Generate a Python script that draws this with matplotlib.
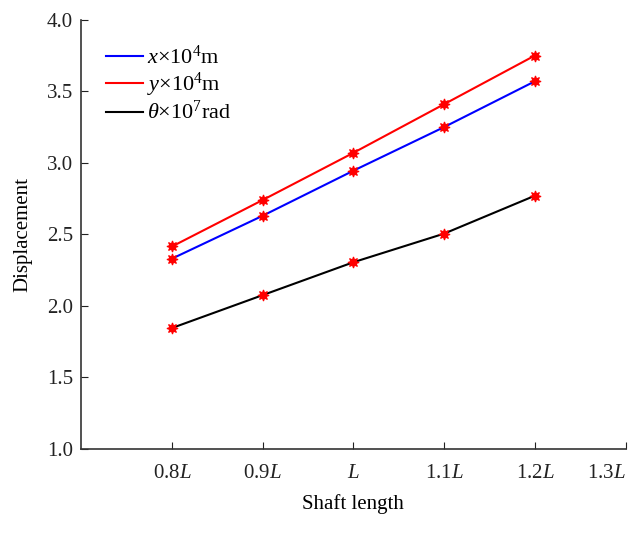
import matplotlib
matplotlib.use("Agg")
import matplotlib.pyplot as plt

plt.rcParams["font.family"] = ["Liberation Serif", "DejaVu Serif"]
plt.rcParams["mathtext.fontset"] = "custom"
plt.rcParams["mathtext.rm"] = "Liberation Serif"
plt.rcParams["mathtext.it"] = "Liberation Serif:italic"

# ===== Data =====
length = [0.8, 0.9, 1.0, 1.1, 1.2]
x_disp = [2.33, 2.63, 2.945, 3.25, 3.57]
y_disp = [2.415, 2.74, 3.07, 3.41, 3.75]
theta_disp = [1.845, 2.075, 2.305, 2.505, 2.77]

xticks = [0.8, 0.9, 1.0, 1.1, 1.2, 1.3]
xticklabels = ["0.8$L$", "0.9$L$", "$L$", "1.1$L$", "1.2$L$", "1.3$L$"]
yticks = [1.0, 1.5, 2.0, 2.5, 3.0, 3.5, 4.0]

# ===== Plot =====
fig = plt.figure(figsize=(6.3, 5.35), dpi=100)
ax = fig.add_axes([0.129, 0.161, 0.864, 0.802])

mk = dict(marker=(8, 1, 0), markersize=8, markerfacecolor="red",
          markeredgecolor="red", markeredgewidth=0.8)
ax.plot(length, x_disp, color="blue", lw=1.5, label=r"$x$×10$^4$m", **mk)
ax.plot(length, y_disp, color="red", lw=1.5, label=r"$y$×10$^4$m", **mk)
ax.plot(length, theta_disp, color="black", lw=1.5, label=r"$\theta$×10$^7$rad", **mk)

ax.set_xlim(0.7, 1.3)
ax.set_ylim(1.0, 4.0)
ax.set_xticks(xticks)
ax.set_xticklabels(xticklabels)
ax.set_yticks(yticks)
ax.set_yticklabels([f"{v:.1f}" for v in yticks])
ax.tick_params(direction="in", length=5, labelsize=15, colors="#222222", pad=6)
ax.tick_params(axis="x", pad=11)
# last label pushed inside the figure, as in the original
ax.get_xticklabels()[-1].set_horizontalalignment("right")
ax.get_xticklabels()[-1].set_x(1.3)

for s in ["top", "right"]:
    ax.spines[s].set_visible(False)
for s in ["left", "bottom"]:
    ax.spines[s].set_color("#333333")
    ax.spines[s].set_linewidth(1.2)

ax.set_xlabel("Shaft length", fontsize=15, labelpad=8)
ax.set_ylabel("Displacement", fontsize=15, labelpad=10)

leg = ax.legend(loc="upper left", frameon=False, fontsize=16, handlelength=1.63,
                handletextpad=0.2, labelspacing=0.1, borderaxespad=0.9,
                bbox_to_anchor=(-0.007, 1.008))
for h in leg.legend_handles:
    h.set_marker("")

fig.savefig("out.png", dpi=100)
